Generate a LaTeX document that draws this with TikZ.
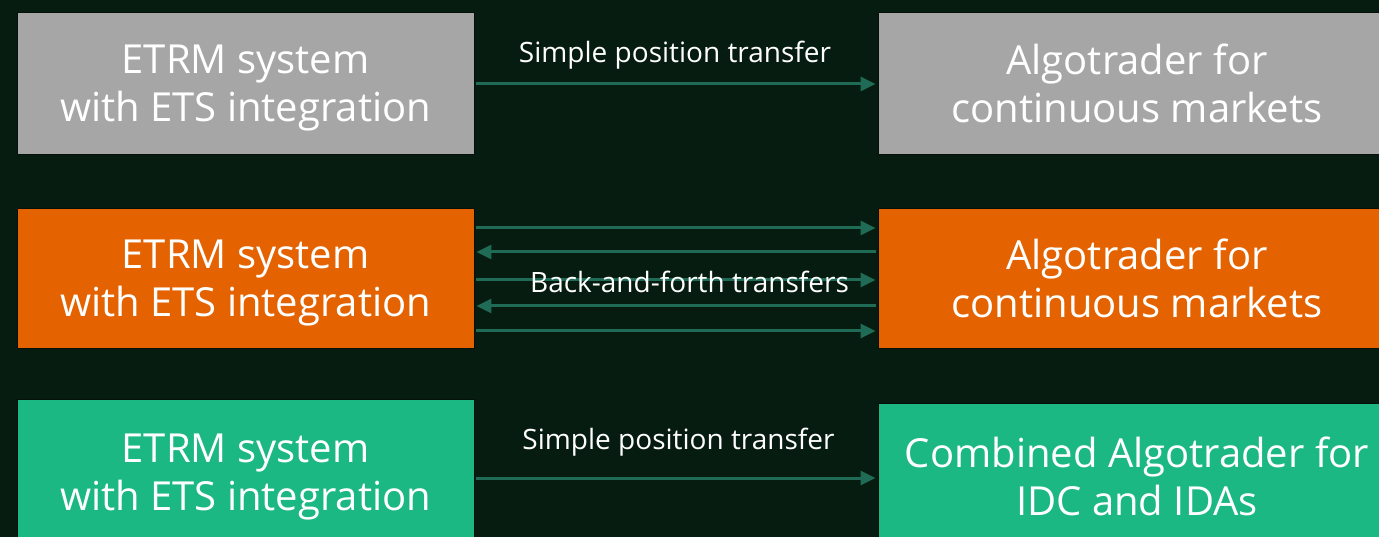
\documentclass[tikz,border=0pt]{standalone}
\usepackage{fontspec}
\setmainfont{Open Sans}
\usetikzlibrary{arrows.meta}
\definecolor{bg}{HTML}{071C10}
\definecolor{gbox}{HTML}{A6A6A6}
\definecolor{obox}{HTML}{E46200}
\definecolor{tbox}{HTML}{1CB883}
\definecolor{arrc}{HTML}{1F6B55}
\tikzset{
  box/.style={draw=bg!60!black, line width=0.8pt, text=white, align=center, inner sep=0pt,
    text depth=0pt, font=\fontsize{40}{48}\selectfont},
  lbox/.style={box, minimum width=457pt, minimum height=142pt},
  rbox/.style={box, minimum width=518pt, minimum height=142pt},
  arr/.style={draw=arrc, line width=3pt, -{Triangle[length=15pt,width=14pt]}, shorten <=2pt, shorten >=2pt},
  lbl/.style={text=white, font=\fontsize{28}{32}\selectfont, inner sep=0pt}
}
\begin{document}
\begin{tikzpicture}[x=1pt,y=-1pt]
\fill[bg] (0,0) rectangle (1379,537);
\useasboundingbox (0,0) rectangle (1379,537);
\begin{scope}
\clip (0,0) rectangle (1379,537);
% row 1
\node[lbox, fill=gbox] (l1) at (245.5,83) {ETRM system\\with ETS integration};
\node[rbox, fill=gbox] (r1) at (1137,83) {Algotrader for\\continuous markets};
% row 2
\node[lbox, fill=obox, minimum height=140pt] (l2) at (245.5,278) {ETRM system\\with ETS integration};
\node[rbox, fill=obox, minimum height=140pt] (r2) at (1137,278) {Algotrader for\\continuous markets};
% row 3
\node[lbox, fill=tbox, minimum height=146pt] (l3) at (245.5,472) {ETRM system\\with ETS integration};
\node[rbox, fill=tbox, minimum height=146pt] (r3) at (1137,476) {Combined Algotrader for\\IDC and IDAs};
\end{scope}
% arrows
\draw[arr] (l1.east |- 0,84) coordinate (a1s) -- (r1.west |- a1s);
\node[lbl] (t1) at (675,55) {Simple position transfer};

\draw[arr] (l2.east |- 0,228) coordinate (b1) -- (r2.west |- b1);
\draw[arr] (r2.west |- 0,252) coordinate (b2) -- (l2.east |- b2);
\draw[arr] (l2.east |- 0,280) coordinate (b3) -- (r2.west |- b3);
\draw[arr] (r2.west |- 0,306) coordinate (b4) -- (l2.east |- b4);
\draw[arr] (l2.east |- 0,331) coordinate (b5) -- (r2.west |- b5);
\node[lbl] (t2) at (689.5,282) {Back-and-forth transfers};

\draw[arr] (l3.east |- 0,478) coordinate (c1) -- (r3.west |- c1);
\node[lbl] (t3) at (678.5,442) {Simple position transfer};
\end{tikzpicture}
\end{document}
